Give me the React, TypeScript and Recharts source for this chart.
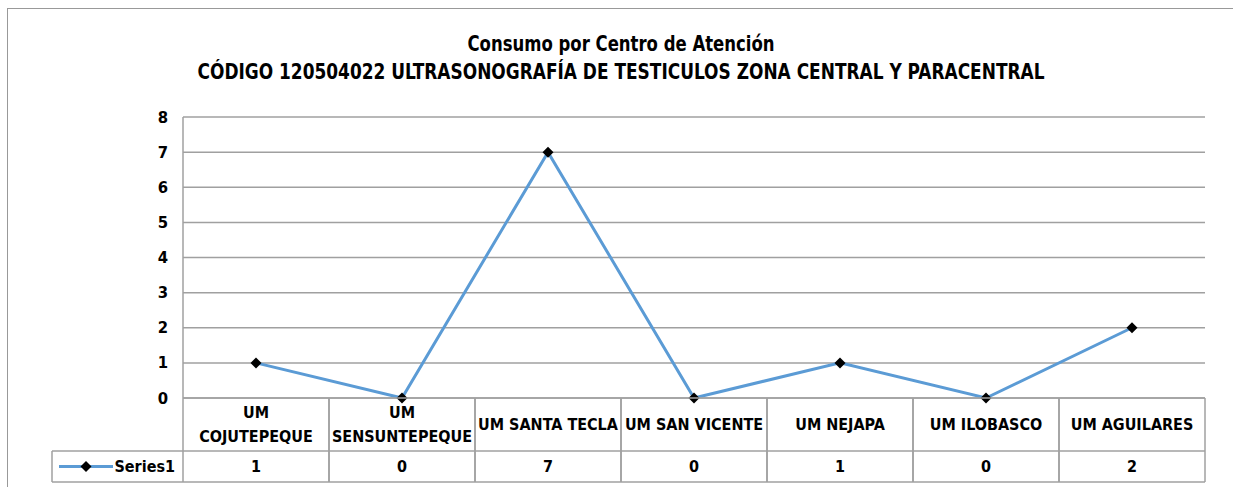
import React from "react";
import { LineChart, Line, XAxis, YAxis, CartesianGrid, Customized } from "recharts";

const categories = [
  "UM COJUTEPEQUE",
  "UM SENSUNTEPEQUE",
  "UM SANTA TECLA",
  "UM SAN VICENTE",
  "UM NEJAPA",
  "UM ILOBASCO",
  "UM AGUILARES",
];
const series1 = [1, 0, 7, 0, 1, 0, 2];
const yTicks = [0, 1, 2, 3, 4, 5, 6, 7, 8];
const seriesName = "Series1";
const titleLine1 = "Consumo por Centro de Atención";
const titleLine2 = "CÓDIGO 120504022 ULTRASONOGRAFÍA DE TESTICULOS ZONA CENTRAL Y PARACENTRAL";

const data = categories.map((c, i) => ({ name: c, value: series1[i] }));

const W = 1226;
const H = 479;
// svg origin at page (7,8)
const M = { top: 109, right: 28, bottom: 5, left: 116 };
const Y_W = 60;
const PLOT_W = W - M.left - Y_W - M.right;
const CELL_W = PLOT_W / categories.length;
const X_H = 84;
const ROW1_H = 53;
const FONT = "'Liberation Sans Narrow', 'DejaVu Sans Condensed', 'Arial Narrow', sans-serif";
const GRID = "#a0a0a0";
const BLUE = "#5b9bd5";
const LEG_LEFT = 45;
const LBL = 16;

let measureCtx: CanvasRenderingContext2D | null = null;
function textW(t: string, size: number) {
  if (!measureCtx) {
    const c = document.createElement("canvas");
    measureCtx = c.getContext("2d");
  }
  if (!measureCtx) return t.length * size * 0.5;
  measureCtx.font = `bold ${size}px ${FONT}`;
  return measureCtx.measureText(t).width;
}

function wrap(label: string, size: number, maxW: number): string[] {
  if (textW(label, size) <= maxW) return [label];
  const words = label.split(" ");
  const lines: string[] = [];
  let cur = "";
  words.forEach((w) => {
    const test = cur ? cur + " " + w : w;
    if (cur && textW(test, size) > maxW) {
      lines.push(cur);
      cur = w;
    } else cur = test;
  });
  if (cur) lines.push(cur);
  return lines;
}

const Diamond = (props: any) => {
  const { cx, cy } = props;
  if (cx == null || cy == null) return null;
  const r = 5.5;
  return (
    <polygon
      points={`${cx},${cy - r} ${cx + r},${cy} ${cx},${cy + r} ${cx - r},${cy}`}
      fill="#000"
    />
  );
};

const txt = (x: number, y: number, s: string | number, anchor: any = "middle", size = LBL, key?: any) => (
  <text
    key={key}
    x={x}
    y={y}
    textAnchor={anchor}
    dominantBaseline="central"
    fontFamily={FONT}
    fontWeight="bold"
    fontSize={size}
    fill="#000"
  >
    {s}
  </text>
);

const XTick = (props: any) => {
  const { x, y, payload, index } = props;
  const left = x - CELL_W / 2;
  const right = x + CELL_W / 2;
  const lines = wrap(payload.value, LBL, CELL_W - 6);
  const midY = y + ROW1_H / 2;
  const lh = 24;
  const startY = midY - ((lines.length - 1) * lh) / 2;
  const val = series1[index];
  const row2Y = y + ROW1_H + (X_H - ROW1_H) / 2;
  return (
    <g>
      <line x1={left} x2={right} y1={y} y2={y} stroke={GRID} strokeWidth={1.5} />
      <line x1={left} x2={right} y1={y + ROW1_H} y2={y + ROW1_H} stroke={GRID} strokeWidth={1.5} />
      <line x1={left} x2={right} y1={y + X_H} y2={y + X_H} stroke={GRID} strokeWidth={1.5} />
      <line x1={left} x2={left} y1={y} y2={y + X_H} stroke={GRID} strokeWidth={1.5} />
      <line x1={right} x2={right} y1={y} y2={y + X_H} stroke={GRID} strokeWidth={1.5} />
      {lines.map((l, i) => txt(x, startY + i * lh, l, "middle", LBL, i))}
      {txt(x, row2Y, val)}
      {index === 0 && (
        <g>
          <line x1={LEG_LEFT} x2={left} y1={y + ROW1_H} y2={y + ROW1_H} stroke={GRID} strokeWidth={1.5} />
          <line x1={LEG_LEFT} x2={left} y1={y + X_H} y2={y + X_H} stroke={GRID} strokeWidth={1.5} />
          <line x1={LEG_LEFT} x2={LEG_LEFT} y1={y + ROW1_H} y2={y + X_H} stroke={GRID} strokeWidth={1.5} />
          <line x1={LEG_LEFT + 7} x2={LEG_LEFT + 61} y1={row2Y} y2={row2Y} stroke={BLUE} strokeWidth={3} />
          <Diamond cx={LEG_LEFT + 34} cy={row2Y} />
          {txt(left - 8, row2Y, seriesName, "end")}
        </g>
      )}
    </g>
  );
};

const YTick = (props: any) => {
  const { x, y, payload } = props;
  return txt(x, y, payload.value, "end", 16.5);
};

const Title = () => (
  <g>
    <text x={614} y={36} textAnchor="middle" dominantBaseline="central" fontFamily={FONT} fontWeight="bold" fontSize={20.5} fill="#000" textLength={307} lengthAdjust="spacingAndGlyphs">
      {titleLine1}
    </text>
    <text x={614} y={64} textAnchor="middle" dominantBaseline="central" fontFamily={FONT} fontWeight="bold" fontSize={20.5} fill="#000" textLength={847} lengthAdjust="spacingAndGlyphs">
      {titleLine2}
    </text>
  </g>
);

export default function App() {
  return (
    <div
      style={{
        position: "absolute",
        left: 7,
        top: 8,
        width: W,
        height: H,
        background: "#fff",
      }}
    >
      <div style={{ position: "absolute", left: 0, top: 0, width: 1300, height: 1, background: "#999" }} />
      <div style={{ position: "absolute", left: 0, top: 0, width: 1, height: 500, background: "#999" }} />
      <LineChart width={W} height={H} data={data} margin={M}>
        <CartesianGrid vertical={false} stroke={GRID} strokeWidth={1.5} />
        <XAxis
          dataKey="name"
          interval={0}
          height={X_H}
          padding={{ left: CELL_W / 2, right: CELL_W / 2 }}
          axisLine={false}
          tickLine={false}
          tickSize={0}
          tickMargin={0}
          tick={<XTick />}
        />
        <YAxis
          width={Y_W}
          domain={[0, 8]}
          ticks={yTicks}
          interval={0}
          axisLine={{ stroke: GRID, strokeWidth: 1.5 }}
          tickLine={false}
          tickSize={0}
          tickMargin={15}
          tick={<YTick />}
        />
        <Line
          dataKey="value"
          name={seriesName}
          stroke={BLUE}
          strokeWidth={3}
          dot={<Diamond />}
          activeDot={false}
          isAnimationActive={false}
        />
        <Customized component={Title} />
      </LineChart>
    </div>
  );
}
